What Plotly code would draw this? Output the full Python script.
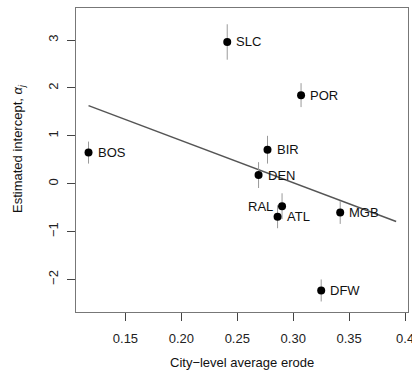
import plotly.graph_objects as go

cities = ["BOS", "SLC", "POR", "BIR", "DEN", "RAL", "ATL", "MGB", "DFW"]
erode = [0.117, 0.241, 0.307, 0.277, 0.269, 0.290, 0.286, 0.342, 0.325]
intercept = [0.65, 2.96, 1.85, 0.71, 0.18, -0.47, -0.69, -0.60, -2.23]
half_err = [0.23, 0.37, 0.25, 0.29, 0.27, 0.27, 0.24, 0.24, 0.23]
label_side = ["right", "right", "right", "right", "right", "left", "right", "right", "right"]

fit_x = [0.117, 0.392]
fit_y = [1.63, -0.79]

x_ticks = [0.15, 0.20, 0.25, 0.30, 0.35, 0.40]
x_ticklabels = ["0.15", "0.20", "0.25", "0.30", "0.35", "0.4"]
y_ticks = [-2, -1, 0, 1, 2, 3]
y_ticklabels = ["\u22122", "\u22121", "0", "1", "2", "3"]

FONT = "Liberation Sans, Arial, Helvetica, sans-serif"

fig = go.Figure()

fig.add_trace(go.Scatter(
    x=fit_x, y=fit_y, mode="lines",
    line=dict(color="#555555", width=1.5),
    hoverinfo="skip", showlegend=False,
))

fig.add_trace(go.Scatter(
    x=erode, y=intercept, mode="markers",
    marker=dict(color="black", size=8),
    error_y=dict(type="data", array=half_err, symmetric=True,
                 color="#9a9a9a", thickness=1, width=0),
    showlegend=False,
))

for c, xv, yv, side in zip(cities, erode, intercept, label_side):
    fig.add_annotation(
        x=xv, y=yv, text=c, showarrow=False,
        xanchor="left" if side == "right" else "right",
        xshift=7 if side == "right" else -7,
        yanchor="middle",
        font=dict(family=FONT, size=13, color="#111111"),
    )

fig.add_annotation(
    xref="paper", yref="paper",
    x=(18 - 76) / 332, y=(312 - 149) / 304,
    text="Estimated intercept, <i>\u03b1</i><sub><i>j</i></sub>",
    textangle=-90, showarrow=False, xanchor="center", yanchor="middle",
    font=dict(family=FONT, size=13, color="#111111"),
)
fig.add_annotation(
    xref="paper", yref="paper",
    x=0.5, y=(312 - 363) / 304,
    text="City\u2212level average erode",
    showarrow=False, xanchor="center", yanchor="middle",
    font=dict(family=FONT, size=13, color="#111111"),
)

axis_common = dict(
    showgrid=False, zeroline=False,
    showline=True, mirror=True, linecolor="#777777", linewidth=1,
    ticks="outside", ticklen=8, tickcolor="#444444", tickwidth=1,
    tickfont=dict(family=FONT, size=13, color="#222222"),
    ticklabeloverflow="allow", automargin=False,
)

fig.update_layout(
    width=412, height=381,
    margin=dict(l=76, r=4, t=8, b=69),
    paper_bgcolor="white", plot_bgcolor="white",
    xaxis=dict(range=[0.1058, 0.4026], tickvals=x_ticks, ticktext=x_ticklabels,
               ticklabelstandoff=6, **axis_common),
    yaxis=dict(range=[-2.68, 3.67], tickvals=y_ticks, ticktext=y_ticklabels,
               tickangle=-90, ticklabelstandoff=4, **axis_common),
)

fig.write_html("out.html")
